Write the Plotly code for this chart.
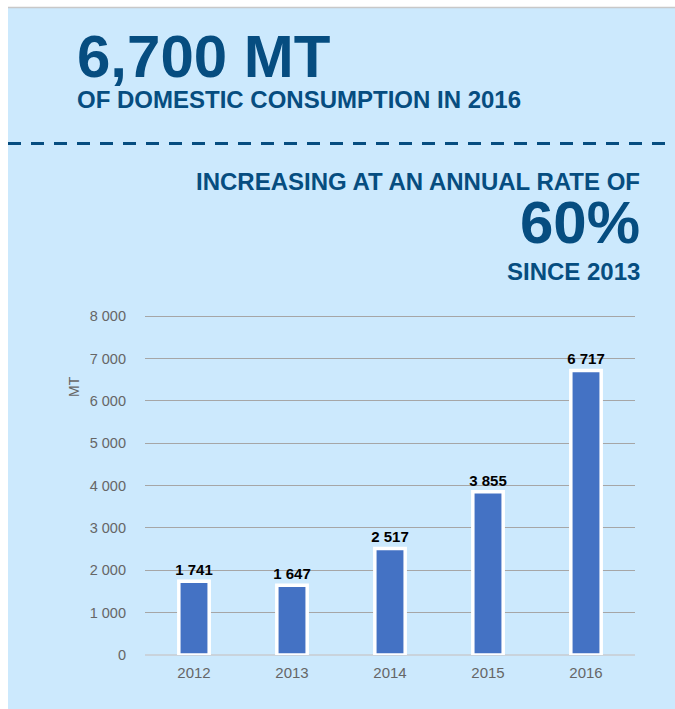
import plotly.graph_objects as go

years = ["2012", "2013", "2014", "2015", "2016"]
consumption = [1741, 1647, 2517, 3855, 6717]
y_ticks = [0, 1000, 2000, 3000, 4000, 5000, 6000, 7000, 8000]

headline = "6,700 MT"
subhead = "OF DOMESTIC CONSUMPTION IN 2016"
rate_intro = "INCREASING AT AN ANNUAL RATE OF"
rate_value = "60%"
rate_since = "SINCE 2013"
y_title = "MT"

BG = "#CCE9FD"
DARK = "#064D80"
FONT = "Arial, Liberation Sans, sans-serif"

W, H = 675, 709
# plot area in page pixels
PLOT_L, PLOT_R, PLOT_T, PLOT_B = 145, 635, 314, 655
Y_MAX = 8050

fig = go.Figure()
fig.add_trace(go.Bar(
    x=years, y=consumption,
    marker=dict(color="#4472C4", line=dict(color="white", width=3.5)),
    width=0.31,
    texttemplate="%{y:,}",
    textposition="outside",
    constraintext="none",
    textfont=dict(family=FONT, size=15, color="black", weight="bold"),
    cliponaxis=False,
    hoverinfo="x+y",
))

def px(x):
    return x / W

def py(y):
    return 1 - y / H

shapes = [
    dict(type="rect", xref="paper", yref="paper", x0=px(8), x1=1.0, y0=0, y1=py(8),
         fillcolor=BG, line=dict(width=0), layer="below"),
    dict(type="line", xref="paper", yref="paper", x0=px(8), x1=1.0, y0=py(7.5), y1=py(7.5),
         line=dict(color="#C8C8C8", width=1.5), layer="below"),
    dict(type="line", xref="paper", yref="paper", x0=px(8), x1=1.0, y0=py(143.5), y1=py(143.5),
         line=dict(color=DARK, width=3, dash="13px,10px")),
]

annotations = [
    dict(text=f"<b>{headline}</b>", x=px(75), y=py(92), xref="paper", yref="paper",
         xanchor="left", yanchor="bottom", showarrow=False,
         font=dict(family=FONT, size=60, color=DARK)),
    dict(text=f"<b>{subhead}</b>", x=px(75), y=py(115), xref="paper", yref="paper",
         xanchor="left", yanchor="bottom", showarrow=False,
         font=dict(family=FONT, size=24, color=DARK)),
    dict(text=f"<b>{rate_intro}</b>", x=px(642), y=py(197), xref="paper", yref="paper",
         xanchor="right", yanchor="bottom", showarrow=False,
         font=dict(family=FONT, size=24, color=DARK)),
    dict(text=f"<b>{rate_value}</b>", x=px(642), y=py(258), xref="paper", yref="paper",
         xanchor="right", yanchor="bottom", showarrow=False,
         font=dict(family=FONT, size=60, color=DARK)),
    dict(text=f"<b>{rate_since}</b>", x=px(642), y=py(287), xref="paper", yref="paper",
         xanchor="right", yanchor="bottom", showarrow=False,
         font=dict(family=FONT, size=24, color=DARK)),
    dict(text=y_title, x=px(74), y=py(387), xref="paper", yref="paper",
         xanchor="center", yanchor="middle", showarrow=False, textangle=-90,
         font=dict(family=FONT, size=14, color="#666666")),
]

fig.update_layout(
    width=W, height=H,
    paper_bgcolor="white",
    plot_bgcolor="rgba(0,0,0,0)",
    margin=dict(l=0, r=0, t=0, b=0, autoexpand=False),
    separators=", ",
    showlegend=False,
    shapes=shapes,
    annotations=annotations,
    font=dict(family=FONT, color="#666666", size=12),
)
fig.update_yaxes(
    domain=[1 - PLOT_B / H, 1 - PLOT_T / H],
    range=[0, Y_MAX], tickvals=y_ticks, tickformat=",",
    showgrid=True, gridcolor="#A6A6A6", gridwidth=1.4,
    zeroline=True, zerolinecolor="#C9D3DC", zerolinewidth=1.6,
    showline=False, ticks="", ticklabelstandoff=18,
    tickfont=dict(family=FONT, size=14.5, color="#666666"),
    automargin=False,
)
fig.update_xaxes(
    domain=[PLOT_L / W, PLOT_R / W],
    showgrid=False, showline=False, ticks="", ticklabelstandoff=7,
    tickfont=dict(family=FONT, size=15, color="#666666"),
    automargin=False,
)

fig.write_html(
    "out.html",
    config={"displayModeBar": False},
    post_script="document.body.style.margin='0';document.body.style.overflow='hidden';",
)
